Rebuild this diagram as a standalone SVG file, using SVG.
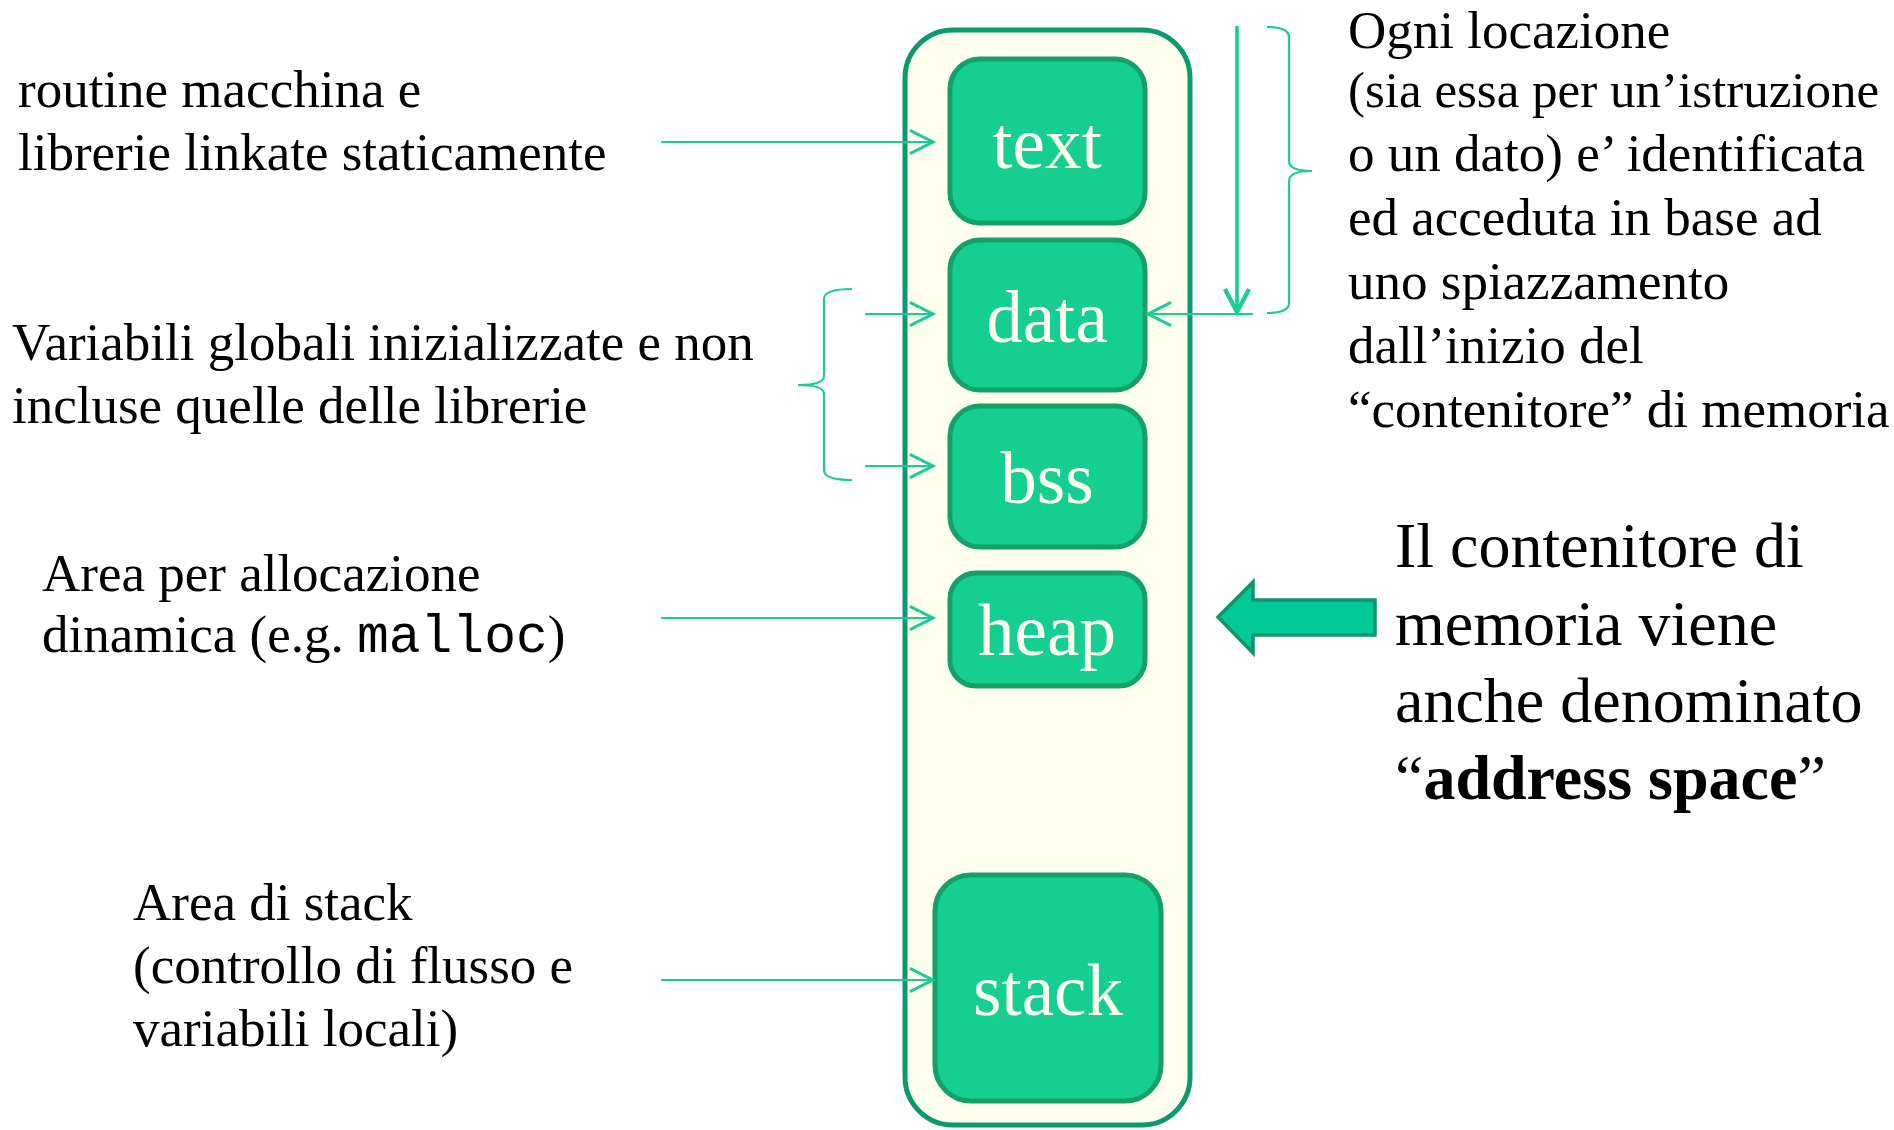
<svg xmlns="http://www.w3.org/2000/svg" width="1894" height="1130" viewBox="0 0 1894 1130">
<defs>
<style>
.t{font-family:"Liberation Serif","Times New Roman",serif;font-size:53px;fill:#000}
.big{font-family:"Liberation Serif","Times New Roman",serif;font-size:64px;fill:#000}
.mono{font-family:"Liberation Mono","Courier New",monospace}
.box{fill:#14CF8F;stroke:#15A06A;stroke-width:5}
.lbl{font-family:"Liberation Serif","Times New Roman",serif;font-size:73px;fill:#FFFFF0;text-anchor:middle}
.con{fill:none;stroke:#1ECB96;stroke-width:2.2}
</style>
<marker id="ah" markerUnits="userSpaceOnUse" markerWidth="30" markerHeight="30" viewBox="-22 -12 26 24" refX="0" refY="0" orient="auto">
<path d="M-20,-10 L0,0 L-20,10" fill="none" stroke="#1ECB96" stroke-width="2.6"/>
</marker>
<marker id="ahb" markerUnits="userSpaceOnUse" markerWidth="30" markerHeight="30" viewBox="-22 -13 26 26" refX="0" refY="0" orient="auto">
<path d="M-20,-10.5 L0,0 L-20,10.5" fill="none" stroke="#1ECB96" stroke-width="3.8"/>
</marker>
</defs>
<rect width="1894" height="1130" fill="#fff"/>

<g id="container">
<rect x="905" y="30" width="285" height="1095" rx="48" fill="#FEFFEE" stroke="#0A9A6E" stroke-width="5"/>
</g>
<g id="node-text"><rect class="box" x="950" y="59" width="195" height="164" rx="30"/><text class="lbl" x="1047" y="168">text</text></g>
<g id="node-data"><rect class="box" x="950" y="240" width="195" height="150" rx="30"/><text class="lbl" x="1047" y="342">data</text></g>
<g id="node-bss"><rect class="box" x="950" y="406" width="195" height="141" rx="30"/><text class="lbl" x="1047" y="503">bss</text></g>
<g id="node-heap"><rect class="box" x="950" y="573" width="195" height="113" rx="26"/><text class="lbl" x="1047" y="655">heap</text></g>
<g id="node-stack"><rect class="box" x="935" y="875" width="226" height="226" rx="36"/><text class="lbl" x="1048" y="1015">stack</text></g>

<g id="connectors">
<line class="con" x1="661" y1="142" x2="933" y2="142" marker-end="url(#ah)"/>
<line class="con" x1="865" y1="314" x2="933" y2="314" marker-end="url(#ah)"/>
<line class="con" x1="865" y1="466" x2="933" y2="466" marker-end="url(#ah)"/>
<line class="con" x1="661" y1="618" x2="933" y2="618" marker-end="url(#ah)"/>
<line class="con" x1="661" y1="980" x2="933" y2="980" marker-end="url(#ah)"/>
<line class="con" x1="1253" y1="314" x2="1148" y2="314" marker-end="url(#ah)"/>
<line class="con" style="stroke-width:3.6" x1="1237" y1="26" x2="1237" y2="312" marker-end="url(#ahb)"/>
<path class="con" d="M852,289 Q824,289 824,299 L824,376 Q824,385 798,385 Q824,385 824,394 L824,470 Q824,480 852,480"/>
<path class="con" d="M1267,27 Q1289,27 1289,37 L1289,161 Q1289,171 1312,171 Q1289,171 1289,181 L1289,303 Q1289,313 1267,313"/>
<path d="M1218,617 L1253,582 L1253,600 L1375,600 L1375,635 L1253,635 L1253,653 Z" fill="#00C896" stroke="#0E956B" stroke-width="3.5" stroke-linejoin="miter"/>
</g>

<g id="label-text">
<text class="t" x="18" y="107">routine macchina e</text>
<text class="t" x="18" y="170">librerie linkate staticamente</text>
</g>
<g id="label-data">
<text class="t" x="12" y="360">Variabili globali inizializzate e non</text>
<text class="t" x="12" y="423">incluse quelle delle librerie</text>
</g>
<g id="label-heap">
<text class="t" x="42" y="591">Area per allocazione</text>
<text class="t" x="42" y="652">dinamica (e.g. <tspan class="mono">malloc</tspan>)</text>
</g>
<g id="label-stack">
<text class="t" x="133" y="920">Area di stack</text>
<text class="t" x="133" y="983">(controllo di flusso e</text>
<text class="t" x="133" y="1046">variabili locali)</text>
</g>
<g id="label-offset">
<text class="t" x="1348" y="48">Ogni locazione</text>
<text class="t" x="1348" y="107" style="font-size:51px">(sia essa per un’istruzione</text>
<text class="t" x="1348" y="171">o un dato) e’ identificata</text>
<text class="t" x="1348" y="235">ed acceduta in base ad</text>
<text class="t" x="1348" y="299">uno spiazzamento</text>
<text class="t" x="1348" y="363">dall’inizio del</text>
<text class="t" x="1348" y="427">“contenitore” di memoria</text>
</g>
<g id="label-address-space">
<text class="big" x="1395" y="567">Il contenitore di</text>
<text class="big" x="1395" y="645">memoria viene</text>
<text class="big" x="1395" y="722">anche denominato</text>
<text class="big" x="1395" y="799">“<tspan font-weight="bold">address space</tspan>”</text>
</g>
</svg>
